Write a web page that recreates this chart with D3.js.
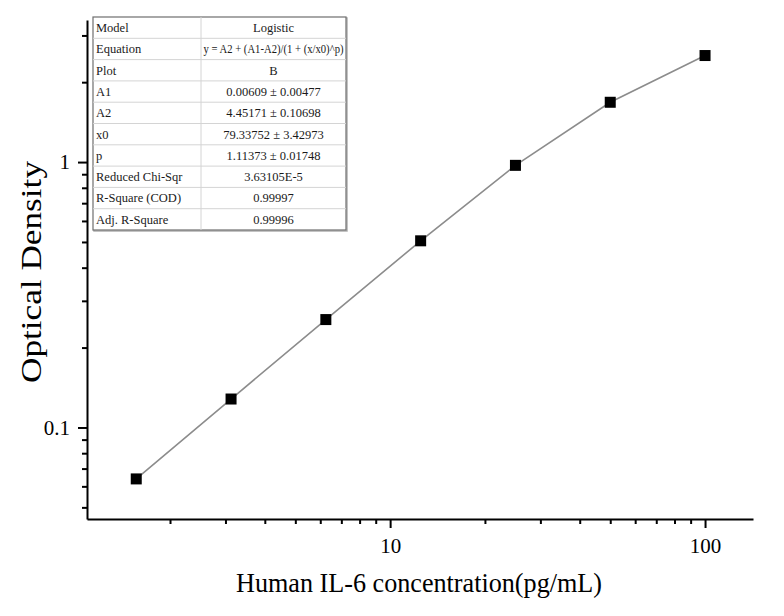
<!DOCTYPE html>
<html>
<head>
<meta charset="utf-8">
<script src="https://cdn.jsdelivr.net/npm/d3@7"></script>
<style>
  body { margin: 0; background: #fff; }
  text { font-family: "Liberation Serif", "Times New Roman", serif; }
</style>
</head>
<body>
<div id="chart"></div>
<script>
// standard concentrations (pg/mL) and measured OD
const conc = [1.5625, 3.125, 6.25, 12.5, 25, 50, 100];
const od = [0.064, 0.128, 0.255, 0.505, 0.972, 1.68, 2.52];

const xTicks = [10, 100];
const yTicks = [0.1, 1];

const tableLabels = ['Model', 'Equation', 'Plot', 'A1', 'A2', 'x0', 'p',
  'Reduced Chi-Sqr', 'R-Square (COD)', 'Adj. R-Square'];
const tableValues = ['Logistic', 'y = A2 + (A1-A2)/(1 + (x/x0)^p)', 'B',
  '0.00609 \u00b1 0.00477', '4.45171 \u00b1 0.10698', '79.33752 \u00b1 3.42973',
  '1.11373 \u00b1 0.01748', '3.63105E-5', '0.99997', '0.99996'];

const width = 784;
const height = 616;
const margin = {top: 20, right: 31, bottom: 97, left: 87};

const svg = d3.select('#chart')
  .append('svg')
  .attr('width', width)
  .attr('height', height);

const x = d3.scaleLog()
  .domain([1.09, 142])
  .range([margin.left, width - margin.right]);

const y = d3.scaleLog()
  .domain([0.0452, 3.43])
  .range([height - margin.bottom, margin.top]);

// minor ticks for log axes
const xMinor = d3.range(1, 3).flatMap(e => d3.range(2, 10).map(k => k * Math.pow(10, e - 1)))
  .filter(v => v > x.domain()[0] && v < x.domain()[1]);
const yMinor = d3.range(-2, 1).flatMap(e => d3.range(2, 10).map(k => k * Math.pow(10, e)))
  .filter(v => v > y.domain()[0] && v < y.domain()[1]);

// x axis
const gx = svg.append('g')
  .attr('transform', `translate(0,${height - margin.bottom})`);
gx.call(d3.axisBottom(x).tickValues(xTicks).tickFormat(d3.format('d')).tickSize(9).tickSizeOuter(0).tickPadding(10));
gx.append('g').call(d3.axisBottom(x).tickValues(xMinor).tickFormat('').tickSize(5).tickSizeOuter(0))
  .select('.domain').remove();

// y axis
const gy = svg.append('g')
  .attr('transform', `translate(${margin.left},0)`);
gy.call(d3.axisLeft(y).tickValues(yTicks).tickFormat(d => d).tickSize(9).tickSizeOuter(0).tickPadding(8));
gy.append('g').call(d3.axisLeft(y).tickValues(yMinor).tickFormat('').tickSize(5).tickSizeOuter(0))
  .select('.domain').remove();

svg.selectAll('.domain').attr('stroke', '#000').attr('stroke-width', 2);
svg.selectAll('.tick line').attr('stroke', '#000').attr('stroke-width', 2);
svg.selectAll('.tick text').attr('font-size', 21).attr('fill', '#000')
  .style('font-family', '"Liberation Serif", serif');

// axis titles
svg.append('text')
  .attr('x', 419)
  .attr('y', 592)
  .attr('text-anchor', 'middle')
  .attr('font-size', 27)
  .attr('textLength', 366)
  .attr('lengthAdjust', 'spacingAndGlyphs')
  .text('Human IL-6 concentration(pg/mL)');

svg.append('text')
  .attr('transform', `translate(41,272) rotate(-90)`)
  .attr('text-anchor', 'middle')
  .attr('font-size', 30)
  .attr('textLength', 222)
  .attr('lengthAdjust', 'spacingAndGlyphs')
  .text('Optical Density');

// fitted line
const line = d3.line()
  .x((d, i) => x(conc[i]))
  .y(d => y(d));

svg.append('path')
  .datum(od)
  .attr('fill', 'none')
  .attr('stroke', '#8c8c8c')
  .attr('stroke-width', 1.6)
  .attr('d', line);

svg.append('g')
  .selectAll('rect')
  .data(od)
  .join('rect')
  .attr('x', (d, i) => x(conc[i]) - 5.5)
  .attr('y', d => y(d) - 5.5)
  .attr('width', 11)
  .attr('height', 11)
  .attr('fill', '#000');

// parameter table
const tb = {x: 93, y: 17, w: 253, rowH: 21.3, split: 201};
const table = svg.append('g');

table.append('rect')
  .attr('x', tb.x + 1).attr('y', tb.y + 1)
  .attr('width', tb.w).attr('height', tb.rowH * tableLabels.length)
  .attr('fill', 'none').attr('stroke', '#b0b0b0').attr('stroke-width', 1.5);
table.append('rect')
  .attr('x', tb.x).attr('y', tb.y)
  .attr('width', tb.w).attr('height', tb.rowH * tableLabels.length)
  .attr('fill', '#fff').attr('stroke', '#6e6e6e').attr('stroke-width', 1.2);

table.selectAll('line.row')
  .data(tableLabels.slice(1))
  .join('line')
  .attr('x1', tb.x).attr('x2', tb.x + tb.w)
  .attr('y1', (d, i) => tb.y + tb.rowH * (i + 1))
  .attr('y2', (d, i) => tb.y + tb.rowH * (i + 1))
  .attr('stroke', '#d4d4d4').attr('stroke-width', 1);

table.append('line')
  .attr('x1', tb.split).attr('x2', tb.split)
  .attr('y1', tb.y).attr('y2', tb.y + tb.rowH * tableLabels.length)
  .attr('stroke', '#d4d4d4').attr('stroke-width', 1);

table.selectAll('text.lab')
  .data(tableLabels)
  .join('text')
  .attr('x', tb.x + 3)
  .attr('y', (d, i) => tb.y + tb.rowH * i + 15)
  .attr('font-size', 12.5)
  .attr('fill', '#1a1a1a')
  .text(d => d);

table.selectAll('text.val')
  .data(tableValues)
  .join('text')
  .attr('x', (tb.split + tb.x + tb.w) / 2)
  .attr('y', (d, i) => tb.y + tb.rowH * i + 15)
  .attr('text-anchor', 'middle')
  .attr('font-size', 12.5)
  .attr('fill', '#1a1a1a')
  .each(function(d, i) {
    if (i === 1) d3.select(this).attr('textLength', 140).attr('lengthAdjust', 'spacingAndGlyphs');
  })
  .text(d => d);
</script>
</body>
</html>
